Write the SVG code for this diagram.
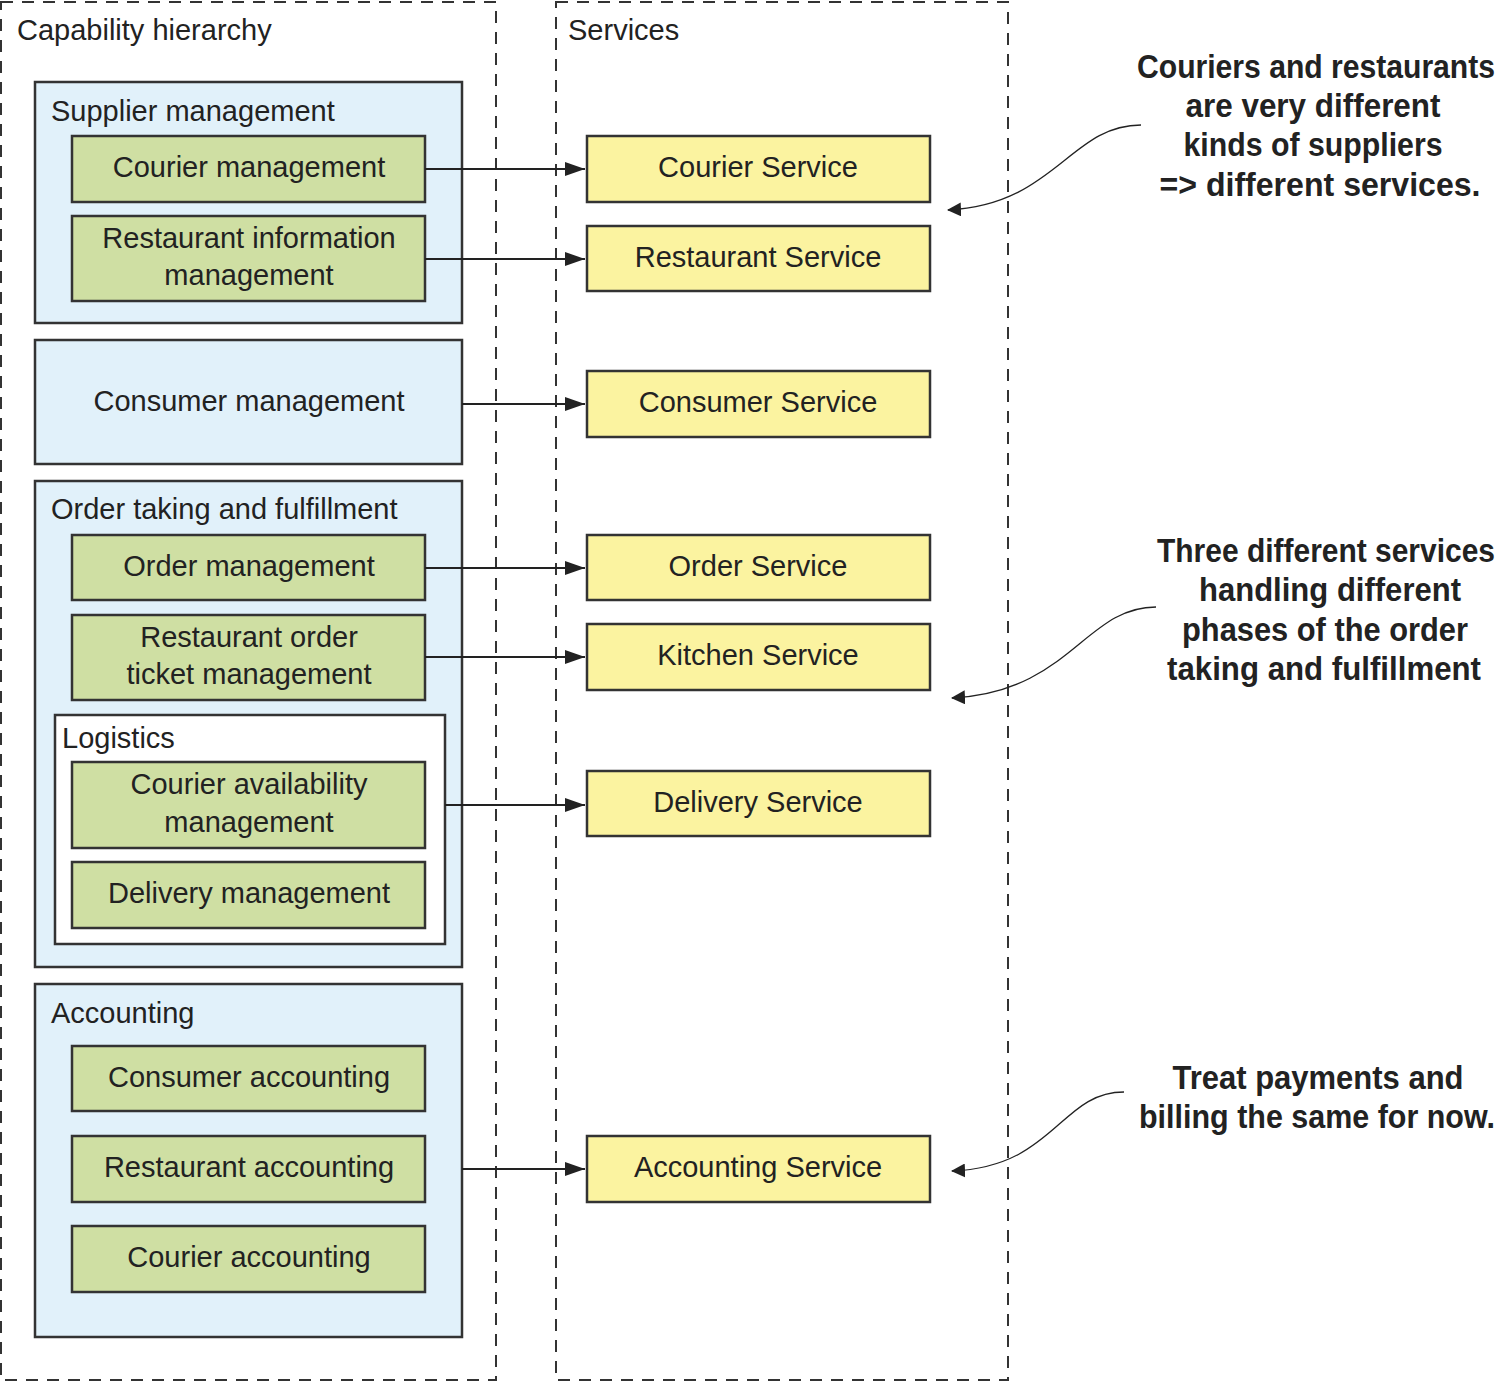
<svg xmlns="http://www.w3.org/2000/svg" width="1501" height="1382" viewBox="0 0 1501 1382">
  <defs>
    <style>
      .zone { fill: none; stroke: #333; stroke-width: 2; stroke-dasharray: 12 9; }
      .group { fill: #e1f1fa; stroke: #333; stroke-width: 2.5; }
      .sub { fill: #ffffff; stroke: #333; stroke-width: 2.5; }
      .cap { fill: #cfdfa3; stroke: #333; stroke-width: 2.5; }
      .svc { fill: #fbf3a0; stroke: #333; stroke-width: 2.5; }
      .t { font-family: "Liberation Sans", Arial, sans-serif; font-size: 29px; fill: #222; }
      .c { text-anchor: middle; }
      .note { font-family: "Liberation Sans", Arial, sans-serif; font-weight: bold; font-size: 34px; fill: #222; text-anchor: middle; }
      .link { fill: none; stroke: #222; stroke-width: 2; }
      .callout { fill: none; stroke: #222; stroke-width: 1.3; }
    </style>
    <marker id="arrow" viewBox="0 0 20 14" refX="20" refY="7" markerWidth="20" markerHeight="14" markerUnits="userSpaceOnUse" orient="auto">
      <path d="M0,0 L20,7 L0,14 Z" fill="#222"/>
    </marker>
    <marker id="arrowSmall" viewBox="0 0 14 14" refX="13" refY="7" markerWidth="14" markerHeight="14" markerUnits="userSpaceOnUse" orient="auto">
      <path d="M0,0 L14,7 L0,14 Z" fill="#222"/>
    </marker>
  </defs>

  <!-- Outer zones -->
  <g id="capability-hierarchy">
    <rect class="zone" x="1" y="2" width="495" height="1378"/>
    <text class="t" x="17" y="40">Capability hierarchy</text>
  </g>
  <g id="services">
    <rect class="zone" x="556" y="2" width="452" height="1378"/>
    <text class="t" x="568" y="40">Services</text>
  </g>

  <!-- Supplier management -->
  <g id="supplier-management">
    <rect class="group" x="35" y="82" width="427" height="241"/>
    <text class="t" x="51" y="121">Supplier management</text>
  </g>
  <g id="courier-management">
    <rect class="cap" x="72" y="136" width="353" height="66"/>
    <text class="t c" x="249" y="177">Courier management</text>
  </g>
  <g id="restaurant-information-management">
    <rect class="cap" x="72" y="216" width="353" height="85"/>
    <text class="t c" x="249" y="248">Restaurant information</text>
    <text class="t c" x="249" y="285">management</text>
  </g>

  <!-- Consumer management -->
  <g id="consumer-management">
    <rect class="group" x="35" y="340" width="427" height="124"/>
    <text class="t c" x="249" y="411">Consumer management</text>
  </g>

  <!-- Order taking and fulfillment -->
  <g id="order-taking">
    <rect class="group" x="35" y="481" width="427" height="486"/>
    <text class="t" x="51" y="519">Order taking and fulfillment</text>
  </g>
  <g id="order-management">
    <rect class="cap" x="72" y="535" width="353" height="65"/>
    <text class="t c" x="249" y="576">Order management</text>
  </g>
  <g id="restaurant-order-ticket-management">
    <rect class="cap" x="72" y="615" width="353" height="85"/>
    <text class="t c" x="249" y="647">Restaurant order</text>
    <text class="t c" x="249" y="684">ticket management</text>
  </g>
  <g id="logistics">
    <rect class="sub" x="55" y="715" width="390" height="229"/>
    <text class="t" x="62" y="748">Logistics</text>
  </g>
  <g id="courier-availability-management">
    <rect class="cap" x="72" y="762" width="353" height="86"/>
    <text class="t c" x="249" y="794">Courier availability</text>
    <text class="t c" x="249" y="832">management</text>
  </g>
  <g id="delivery-management">
    <rect class="cap" x="72" y="862" width="353" height="66"/>
    <text class="t c" x="249" y="903">Delivery management</text>
  </g>

  <!-- Accounting -->
  <g id="accounting">
    <rect class="group" x="35" y="984" width="427" height="353"/>
    <text class="t" x="51" y="1023">Accounting</text>
  </g>
  <g id="consumer-accounting">
    <rect class="cap" x="72" y="1046" width="353" height="65"/>
    <text class="t c" x="249" y="1087">Consumer accounting</text>
  </g>
  <g id="restaurant-accounting">
    <rect class="cap" x="72" y="1136" width="353" height="66"/>
    <text class="t c" x="249" y="1177">Restaurant accounting</text>
  </g>
  <g id="courier-accounting">
    <rect class="cap" x="72" y="1226" width="353" height="66"/>
    <text class="t c" x="249" y="1267">Courier accounting</text>
  </g>

  <!-- Services -->
  <g id="courier-service">
    <rect class="svc" x="587" y="136" width="343" height="66"/>
    <text class="t c" x="758" y="177">Courier Service</text>
  </g>
  <g id="restaurant-service">
    <rect class="svc" x="587" y="226" width="343" height="65"/>
    <text class="t c" x="758" y="267">Restaurant Service</text>
  </g>
  <g id="consumer-service">
    <rect class="svc" x="587" y="371" width="343" height="66"/>
    <text class="t c" x="758" y="412">Consumer Service</text>
  </g>
  <g id="order-service">
    <rect class="svc" x="587" y="535" width="343" height="65"/>
    <text class="t c" x="758" y="576">Order Service</text>
  </g>
  <g id="kitchen-service">
    <rect class="svc" x="587" y="624" width="343" height="66"/>
    <text class="t c" x="758" y="665">Kitchen Service</text>
  </g>
  <g id="delivery-service">
    <rect class="svc" x="587" y="771" width="343" height="65"/>
    <text class="t c" x="758" y="812">Delivery Service</text>
  </g>
  <g id="accounting-service">
    <rect class="svc" x="587" y="1136" width="343" height="66"/>
    <text class="t c" x="758" y="1177">Accounting Service</text>
  </g>

  <!-- Annotations (condensed bold, fitted to their line widths) -->
  <g id="note-suppliers">
    <text class="note" x="1316" y="78" textLength="358" lengthAdjust="spacingAndGlyphs">Couriers and restaurants</text>
    <text class="note" x="1313" y="117" textLength="255" lengthAdjust="spacingAndGlyphs">are very different</text>
    <text class="note" x="1313" y="156" textLength="259" lengthAdjust="spacingAndGlyphs">kinds of suppliers</text>
    <text class="note" x="1320" y="196" textLength="321" lengthAdjust="spacingAndGlyphs">=&gt; different services.</text>
  </g>
  <g id="note-order">
    <text class="note" x="1326" y="562" textLength="338" lengthAdjust="spacingAndGlyphs">Three different services</text>
    <text class="note" x="1330" y="601" textLength="262" lengthAdjust="spacingAndGlyphs">handling different</text>
    <text class="note" x="1325" y="641" textLength="286" lengthAdjust="spacingAndGlyphs">phases of the order</text>
    <text class="note" x="1324" y="680" textLength="314" lengthAdjust="spacingAndGlyphs">taking and fulfillment</text>
  </g>
  <g id="note-accounting">
    <text class="note" x="1318" y="1089" textLength="291" lengthAdjust="spacingAndGlyphs">Treat payments and</text>
    <text class="note" x="1317" y="1128" textLength="356" lengthAdjust="spacingAndGlyphs">billing the same for now.</text>
  </g>

  <!-- Connectors -->
  <g id="connectors">
    <path class="link" d="M425,169 H585" marker-end="url(#arrow)"/>
    <path class="link" d="M425,259 H585" marker-end="url(#arrow)"/>
    <path class="link" d="M462,404 H585" marker-end="url(#arrow)"/>
    <path class="link" d="M425,568 H585" marker-end="url(#arrow)"/>
    <path class="link" d="M425,657 H585" marker-end="url(#arrow)"/>
    <path class="link" d="M445,805 H585" marker-end="url(#arrow)"/>
    <path class="link" d="M462,1169 H585" marker-end="url(#arrow)"/>

    <path class="callout" d="M1141,125 C1070,125 1055,205 948,210" marker-end="url(#arrowSmall)"/>
    <path class="callout" d="M1156,607 C1085,607 1070,692 952,698" marker-end="url(#arrowSmall)"/>
    <path class="callout" d="M1124,1092 C1060,1092 1055,1167 952,1171" marker-end="url(#arrowSmall)"/>
  </g>
</svg>
